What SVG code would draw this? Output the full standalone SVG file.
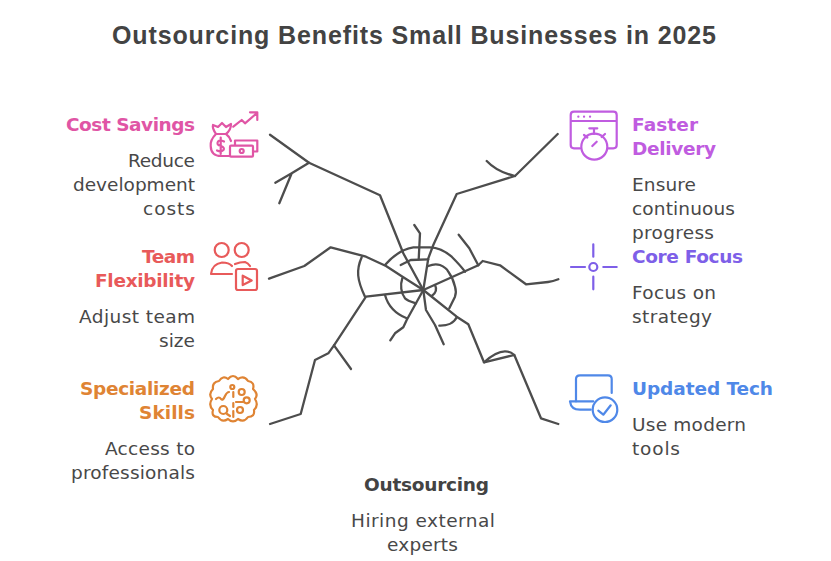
<svg xmlns="http://www.w3.org/2000/svg" width="831" height="561" viewBox="0 0 831 561">
<style>
text{font-family:"DejaVu Sans","Noto Sans",sans-serif;fill:#484848}
.ti{font-family:"Liberation Sans","DejaVu Sans",sans-serif;font-size:25px;font-weight:700;fill:#434343}
.h{font-size:18.5px;font-weight:700}
.b{font-size:18.5px}
.k{fill:#434343}
.l{fill:none;stroke:#4d4d4d;stroke-width:2.300;stroke-linecap:round;stroke-linejoin:round}
.i{fill:none;stroke-width:2.200;stroke-linecap:round;stroke-linejoin:round}
</style>
<rect width="831" height="561" fill="#fff"/>
<text class="ti" x="112" y="44" textLength="604" lengthAdjust="spacing">Outsourcing Benefits Small Businesses in 2025</text>
<g id="connectors" class="l">
<path d="M270,134.700L309,162.700L380,195.300L403.300,253.300L423.300,290"/>
<path d="M309,162.700L291.700,173.300L275.300,182.700M291.700,173.300L279.300,203.300"/>
<path d="M557.700,134L515,176L456.700,194L433.300,245L428.300,258.300L423.300,290"/>
<path d="M515,176Q497,172 486.700,161"/>
<path d="M269,278.700L304.300,266L330.700,247.300L366,256.700L386,266L403.300,277.300L423.300,290"/>
<path d="M558.300,279.300Q553,281.500 548,282L526,284.300L500,265.300L482.700,261L478.300,265.300L423.300,290"/>
<path d="M478.300,265.300L469.300,248.300L458.700,234.700"/>
<path d="M270,424L300.700,414L315,360L328.300,353.300L334,345.300L366,296.700L423.300,290"/>
<path d="M334,345.300L351,369"/>
<path d="M558.300,424L541,418.300L514.300,355L484,362.300L468.300,324.300L456.700,316.700L423.300,290"/>
<path d="M484,362.300Q503,345 514.300,355"/>
<path d="M423.300,290L426,310L435,325L443.700,344.300"/>
<path d="M423.300,290L406.700,320L403.300,327.300L395,333.300L390.300,340.300"/>
<path d="M385,265C392,257 402,249 413.300,247.300H430C437,247.500 444,250 451.700,256.700C457,262 461,266 465,271.700"/>
<path d="M414.300,225L420,233.300L418.700,259.300"/>
<path d="M400.700,265L410.700,260L428.300,259.300"/>
<path d="M361.700,257.300C356,270 357,280 365,296.700"/>
<path d="M402.300,278.300C400,285 401,293 405,298.300C408,301 412,302 416,303.300"/>
<path d="M385,295C388,306 396,314 406.700,318.300"/>
<path d="M428.300,266C433,264 437,264 440,265C445,267 447,269 448.300,271.700C452,277 454,282 455,286.700C456,290 456,294 455,296.700L449.300,308.300"/>
<path d="M456.700,317.300C454,323 447,326 439.300,325.700"/>
<path d="M435,285C437,289 436,293 431.700,296"/>
</g>
<g id="cost-savings">
<text class="h" style="fill:#e055a5" x="66" y="131" textLength="129">Cost Savings</text>
<text class="b" x="128" y="167" textLength="67">Reduce</text>
<text class="b" x="73" y="191" textLength="122">development</text>
<text class="b" x="143" y="215" textLength="52">costs</text>
<g class="i" stroke="#e055a5">
<path d="M233.300,126.700L241.700,120L245,123.300L256.700,113.300M250,112.300H257.300V120"/>
<path d="M216,134Q212,128 213,125L218,127L222,123L226,127L231,124Q231,130 226,134Z"/>
<path d="M216,134Q210,140 210.700,146Q211,156 221,156H229M226,134Q229,136 231,141"/>
<path d="M224,141.500Q220,139.500 218,141.500Q216,145 221,146Q225,147.500 223.500,150Q221,152.500 217,150.500M220.700,137.500V154"/>
<rect x="230" y="145.700" width="23" height="11" rx="1"/>
<path d="M235,145V140.500H257.300V151.500H253.300"/>
<circle cx="241.700" cy="151" r="2"/>
</g>
</g>
<g id="team-flexibility">
<text class="h" style="fill:#e85a5a" x="142" y="263" textLength="53">Team</text>
<text class="h" style="fill:#e85a5a" x="95" y="287" textLength="100">Flexibility</text>
<text class="b" x="79" y="323" textLength="116">Adjust team</text>
<text class="b" x="159" y="347" textLength="36">size</text>
<g class="i" stroke="#e85a5a">
<circle cx="221.700" cy="250" r="7"/>
<circle cx="241.700" cy="250" r="7"/>
<path d="M232,274H211Q212,264 222,262.500Q229,262.500 232,266M235,264Q240,262 245,262Q248,263 250,266"/>
<rect x="236" y="269" width="21" height="21" rx="2"/>
<path d="M242.700,275.700L251.700,280.500L242.700,285Z"/>
</g>
</g>
<g id="specialized-skills">
<text class="h" style="fill:#df8434" x="80" y="395" textLength="115">Specialized</text>
<text class="h" style="fill:#df8434" x="139" y="419" textLength="56">Skills</text>
<text class="b" x="105" y="455" textLength="90">Access to</text>
<text class="b" x="71" y="479" textLength="124">professionals</text>
<g class="i" stroke="#df8434">
<path d="M219,381Q223,375 228,379Q233,373 238,379Q244,375 248,381Q255,382 253,389Q259,394 255,399Q259,405 254,410Q255,417 248,417Q244,423 238,419Q233,424 228,419Q222,423 218,417Q211,417 213,410Q208,405 212,399Q208,394 213,389Q212,382 219,381Z"/>
<circle cx="232.300" cy="387" r="2"/>
<circle cx="241.700" cy="392" r="3"/>
<circle cx="223.300" cy="410" r="4"/>
<circle cx="246.700" cy="400.300" r="3"/>
<circle cx="240" cy="410" r="3"/>
<path d="M216,399Q219,396 221,399Q223,401 225,396Q227,392 229,392M233.300,392V397M233.300,403V407M233.300,411V417M236,402H243M227,414L230,416"/>
</g>
</g>
<g id="faster-delivery">
<text class="h" style="fill:#c05ce0" x="632" y="131" textLength="66">Faster</text>
<text class="h" style="fill:#c05ce0" x="632" y="155" textLength="84">Delivery</text>
<text class="b" x="632" y="191" textLength="64">Ensure</text>
<text class="b" x="632" y="215" textLength="103">continuous</text>
<text class="b" x="632" y="239" textLength="82">progress</text>
<g class="i" stroke="#c05ce0">
<path d="M580,148.300H574Q570.700,148.300 570.700,145V115Q570.700,111.700 574,111.700H613.400Q616.700,111.700 616.700,115V145Q616.700,148.300 613.400,148.300H608.300M570.700,121H616.700"/>
<circle cx="594.300" cy="146.700" r="13"/>
<path d="M589.300,128.300H597.300M594,128.300V134M584,135L587.300,137.500M605,134L601.700,137M592.300,146L596.700,141.700"/>
<path d="M578.300,116.700h.1M584,116.700h.1M590,116.700h.1"/>
</g>
</g>
<g id="core-focus">
<text class="h" style="fill:#7e5fe8" x="632" y="263" textLength="111">Core Focus</text>
<text class="b" x="632" y="299" textLength="84">Focus on</text>
<text class="b" x="632" y="323" textLength="80">strategy</text>
<g class="i" stroke="#7e5fe8">
<circle cx="593.300" cy="267" r="4"/>
<path d="M593.300,244.300V256.700M593.300,276.700V289.300M571,267H585M603.300,267H616.700"/>
</g>
</g>
<g id="updated-tech">
<text class="h" style="fill:#4f88e8" x="632" y="395" textLength="141">Updated Tech</text>
<text class="b" x="632" y="431" textLength="114">Use modern</text>
<text class="b" x="632" y="455" textLength="48">tools</text>
<g class="i" stroke="#4f88e8">
<path d="M576,401.300V379Q576,375.300 580,375.300H608Q611.700,375.300 611.700,379V393"/>
<path d="M593.300,401.300H570Q571,409.700 580,409.700H590.700"/>
<circle cx="605" cy="409.700" r="12.300"/>
<path d="M598.300,410.700L603.300,414.700L610.700,405.300"/>
</g>
</g>
<g id="outsourcing">
<text class="h k" x="364" y="491" textLength="125">Outsourcing</text>
<text class="b" x="351" y="527" textLength="144">Hiring external</text>
<text class="b" x="387" y="551" textLength="71">experts</text>
</g>
</svg>
